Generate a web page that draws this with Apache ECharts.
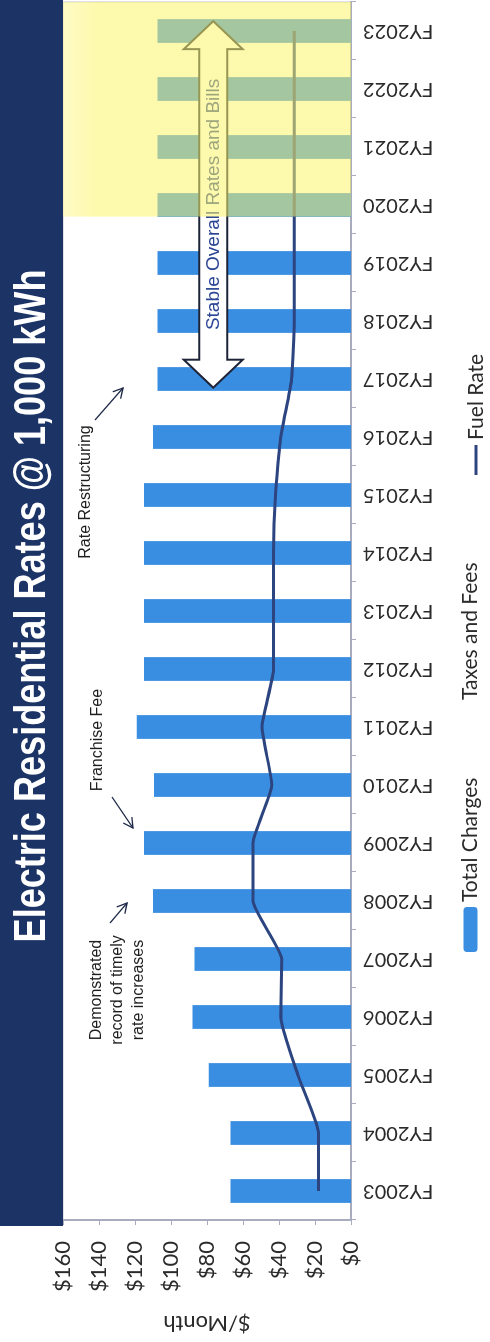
<!DOCTYPE html>
<html>
<head>
<meta charset="utf-8">
<script src="https://cdn.jsdelivr.net/npm/echarts@6/dist/echarts.min.js"></script>
<style>
  html, body { margin: 0; padding: 0; background: #ffffff; overflow: hidden; }
  body { width: 490px; height: 1342px; position: relative; }
  /* The chart is laid out landscape and turned a quarter turn counter-clockwise
     so it reads as a portrait slide. */
  #chart {
    position: absolute; left: 0; top: 0;
    width: 1342px; height: 490px;
    transform-origin: 0 0;
    transform: translateY(1342px) rotate(-90deg);
  }
</style>
</head>
<body>
<div id="chart"></div>
<script>
// ---- data -------------------------------------------------------------
const categories = ['FY2003', 'FY2004', 'FY2005', 'FY2006', 'FY2007', 'FY2008', 'FY2009',
  'FY2010', 'FY2011', 'FY2012', 'FY2013', 'FY2014', 'FY2015', 'FY2016', 'FY2017',
  'FY2018', 'FY2019', 'FY2020', 'FY2021', 'FY2022', 'FY2023'];
const totalCharges = [67, 67, 79, 88, 87, 110, 115, 109.5, 119, 115, 115, 115, 115,
  110, 107.5, 107.5, 107.5, 107.5, 107.5, 107.5, 107.5];
const taxesAndFees = [];
const fuelRate = [18, 18, 29.5, 39, 38.5, 54.5, 54.5, 44, 49.5, 43, 43, 43, 42,
  39, 33, 31.5, 31.5, 31.5, 31.5, 31.5, 31.5];
const valueMin = 0, valueMax = 160, valueStep = 20;
const highlightYears = ['FY2020', 'FY2023'];
const stableYears = ['FY2017', 'FY2023'];
const stableLevel = 76.5;
const titleText = 'Electric Residential Rates @ 1,000 kWh';
const stableText = 'Stable Overall Rates and Bills';

// ---- helpers ----------------------------------------------------------
const NAVY = '#1c3366';
const AXIS = '#a9abbf';
const INK = '#2b2b2b';
const FUEL = '#2c447f';
const UI_FONT = 'Lato, "Open Sans", sans-serif';

function arrowHead(from, to, size, spread) {
  const ang = Math.atan2(to[1] - from[1], to[0] - from[0]);
  return [
    [to[0] - size * Math.cos(ang - spread), to[1] - size * Math.sin(ang - spread)],
    to,
    [to[0] - size * Math.cos(ang + spread), to[1] - size * Math.sin(ang + spread)]
  ];
}
function pointer(from, to) {
  return [
    { type: 'polyline', z: 20, shape: { points: [from, to] },
      style: { stroke: '#1f2a48', lineWidth: 1.3, fill: null } },
    { type: 'polyline', z: 20, shape: { points: arrowHead(from, to, 11, 0.5) },
      style: { stroke: '#1f2a48', lineWidth: 1.3, fill: null } }
  ];
}
function note(text, x, y) {
  return { type: 'text', z: 20, x: x, y: y,
    style: { text: text, x: 0, y: 0, fill: '#1e1e1e',
      font: '16px "Liberation Sans", Arial, sans-serif', lineHeight: 21,
      align: 'center', verticalAlign: 'middle',
      textAlign: 'center', textVerticalAlign: 'middle' } };
}

const chart = echarts.init(document.getElementById('chart'), null, { renderer: 'canvas' });

const option = {
  animation: false,
  backgroundColor: '#ffffff',
  grid: { left: 116, right: 2, top: 63, bottom: 139, show: true,
          borderColor: '#c4c4d0', borderWidth: 1, backgroundColor: 'transparent' },
  xAxis: {
    type: 'category',
    data: categories,
    axisLine: { lineStyle: { color: AXIS, width: 2 } },
    axisTick: { show: true, length: 5, lineStyle: { color: AXIS } },
    axisLabel: { rotate: 90, margin: 12, color: INK, fontSize: 20, fontFamily: UI_FONT }
  },
  yAxis: {
    type: 'value',
    min: valueMin, max: valueMax, interval: valueStep,
    name: '$/Month', nameLocation: 'middle', nameGap: 92,
    nameTextStyle: { color: INK, fontSize: 22, fontFamily: UI_FONT },
    splitLine: { show: false },
    axisLine: { show: true, lineStyle: { color: AXIS, width: 2 } },
    axisTick: { show: true, length: 5, lineStyle: { color: AXIS } },
    axisLabel: { margin: 21, color: INK, fontSize: 22, fontFamily: UI_FONT,
                 formatter: v => '$' + v }
  },
  legend: [
    { data: ['Total Charges'], left: 385, top: 455, itemWidth: 45, itemHeight: 14,
      textStyle: { color: INK, fontSize: 21, fontFamily: UI_FONT } },
    { data: [{ name: 'Taxes and Fees', icon: 'none' }], left: 618, top: 455,
      itemWidth: 14, itemHeight: 14,
      textStyle: { color: INK, fontSize: 21, fontFamily: UI_FONT } },
    { data: [{ name: 'Fuel Rate', icon: 'rect' }], left: 862, top: 460.5,
      itemWidth: 30, itemHeight: 3,
      itemStyle: { color: FUEL },
      textStyle: { color: INK, fontSize: 21, fontFamily: UI_FONT } }
  ],
  series: [
    {
      name: 'Total Charges', type: 'bar', data: totalCharges,
      barWidth: '41%', z: 2,
      itemStyle: { color: '#3a8ee2' }
    },
    {
      name: 'Taxes and Fees', type: 'line', data: taxesAndFees, symbol: 'none',
      itemStyle: { color: 'rgba(255,255,255,0)' }, lineStyle: { width: 0 }
    },
    {
      name: 'Fuel Rate', type: 'line', data: fuelRate, z: 3,
      symbol: 'none', smooth: 0.15,
      itemStyle: { color: FUEL },
      lineStyle: { color: FUEL, width: 3 }
    },
    {
      // double-headed "stable" arrow spanning the flat years
      name: 'stable', type: 'custom', z: 4, silent: true, clip: false,
      encode: { x: [0, 1], y: 2 },
      data: [[categories.indexOf(stableYears[0]), categories.indexOf(stableYears[1]), stableLevel]],
      renderItem: function (params, api) {
        const band = api.size([1, 0])[0];
        const p0 = api.coord([api.value(0), api.value(2)]);
        const p1 = api.coord([api.value(1), api.value(2)]);
        const xa = p0[0] - band * 0.15, xb = p1[0] + band * 0.17, cy = p0[1];
        const h = 14, H = 29.5, L = 28;
        const pts = [[xa, cy], [xa + L, cy - H], [xa + L, cy - h], [xb - L, cy - h],
          [xb - L, cy - H], [xb, cy], [xb - L, cy + H], [xb - L, cy + h],
          [xa + L, cy + h], [xa + L, cy + H]];
        return {
          type: 'group',
          children: [
            { type: 'polygon', shape: { points: pts },
              style: { fill: '#ffffff', stroke: '#1d2438', lineWidth: 2 } },
            { type: 'text', x: (xa + xb) / 2, y: cy,
              style: { text: stableText, x: 0, y: 0, fill: '#2a4595',
                font: '19px "Liberation Sans", Arial, sans-serif',
                align: 'center', verticalAlign: 'middle',
                textAlign: 'center', textVerticalAlign: 'middle' } }
          ]
        };
      }
    },
    {
      // translucent yellow band over the recent years
      name: 'highlight', type: 'custom', z: 5, silent: true, clip: false,
      encode: { x: [0, 1] },
      data: [[categories.indexOf(highlightYears[0]), categories.indexOf(highlightYears[1])]],
      renderItem: function (params, api) {
        const band = api.size([1, 0])[0];
        const a = api.coord([api.value(0), valueMin]);
        const b = api.coord([api.value(1), valueMax]);
        const x0 = a[0] - band * 0.2;
        const x1 = b[0] + band * 0.5;
        return {
          type: 'rect',
          shape: { x: x0, y: b[1], width: x1 - x0, height: a[1] - b[1] },
          style: { fill: new echarts.graphic.LinearGradient(0, 0, 0, 1, [
            { offset: 0, color: 'rgba(253,249,150,0.55)' },
            { offset: 0.12, color: 'rgba(251,244,105,0.55)' },
            { offset: 1, color: 'rgba(251,244,105,0.55)' }
          ]) }
        };
      }
    }
  ],
  graphic: [
    // title banner
    { type: 'rect', z: 10, shape: { x: 116, y: 0, width: 1226, height: 63 },
      style: { fill: NAVY } },
    { type: 'text', z: 11, x: 736, y: 33, scaleX: 0.82,
      style: { text: titleText, x: 0, y: 0, fill: '#ffffff',
        font: 'bold 44px "Liberation Sans", Arial, sans-serif',
        align: 'center', verticalAlign: 'middle',
        textAlign: 'center', textVerticalAlign: 'middle' } },
    // call-outs
    note('Demonstrated\nrecord of timely\nrate increases', 352, 118),
    ...pointer([419, 110], [439, 127]),
    note('Franchise Fee', 602, 98),
    ...pointer([545, 112], [514, 133]),
    note('Rate Restructuring', 850, 86),
    ...pointer([922, 95], [954, 123])
  ]
};

chart.setOption(option);
</script>
</body>
</html>
